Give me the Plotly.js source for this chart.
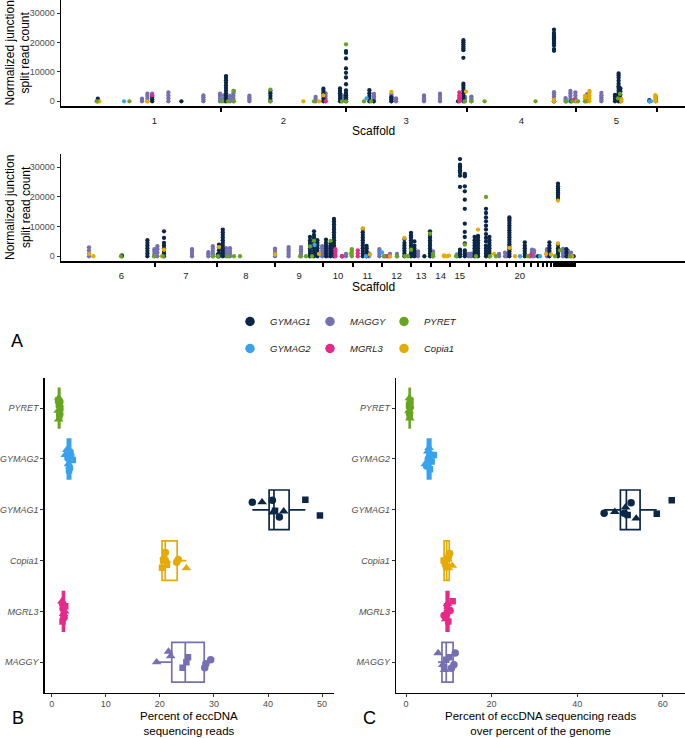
<!DOCTYPE html>
<html>
<head>
<meta charset="utf-8">
<script src="https://cdn.plot.ly/plotly-3.0.1.min.js"></script>
<style>html,body{margin:0;padding:0;background:#fff}#chart{width:685px;height:738px}</style>
</head>
<body>
<div id="chart"></div>
<script>
// ---------------- DATA ----------------
// Panel A: scaffold lengths (Mb, plotting units) and labels
const A1_scaffolds = ['1','2','3','4','5'];
const A1_len = [6.65, 6.24, 6.04, 5.47, 4.05];
const A2_scaffolds = ['6','7','8','9','10','11','12','13','14','15','16','17','18','19','20','21','22','23','24','25','26','27','28','29','30','31','32','33','34','35','36','37','38','39','40','41','42','43','44'];
const A2_len = [3.35,3.085,2.915,2.415,1.47,1.465,1.465,0.985,0.965,0.95,0.835,0.55,0.5,0.45,0.385,0.38,0.32,0.25,0.215,0.2,0.135,0.115,0.1,0.1,0.1,0.085,0.065,0.065,0.06,0.055,0.05,0.045,0.045,0.04,0.04,0.035,0.03,0.025,0.025];
const A2_labelled = ['6','7','8','9','10','11','12','13','14','15','20'];

// Junction positions (cumulative genome position) with normalized split read counts
const A1_GYMAG1 = [
 [0.49,[0,400,900]],[3.21,[0,700,1500]],[4.67,[0]],
 [6.9,[0,900,1800,2700,3600,4500,5400,6300,7200,8000,8600]],
 [9.12,[0,900,1800,2700,3500]],[11.77,[0,900,1800,2700,3500,4300]],
 [12.6,[0,900,1800,2700,3500,4400]],
 [12.9,[0,700,1400,2100,2800,3700,5800,8100,9700,11200,14600,16500,17100]],
 [14.07,[0,900,1800,2700,3800]],[14.28,[0]],[15.17,[0,700,1400]],[18.5,[0]],
 [18.77,[0,900,1800,2700,3600,4500,5300,6000,14800,17400,18000,18700,19400,20100,20800]],
 [23.3,[0,17200,17800,19000,19700,20300,20900,21500,22100,22700,23300,24400]],
 [24.17,[0]],[26.35,[0,800,1600,2200]],
 [26.53,[0,900,1800,2700,3600,4500,5100,6000,7000,8000,8800,9500]],
 [26.62,[0,1100,2200,3300,4400]],[28.07,[0,400]]
];
const A1_MAGGY = [
 [2.7,[0,500,900]],[2.97,[0,900,1800,2600]],[3.21,[1900,2600]],[4.02,[0,1000,2000,3000]],
 [5.77,[0,700,1400,2000]],[6.6,[0,900,1800,2600]],[6.8,[0,1000,2000]],[7.1,[0,900,1800]],
 [7.27,[0,900,1800,2700,3500]],[8.07,[0,700,1300,1900]],[11.38,[0,800,1500]],
 [11.88,[0,900,1800,2700]],[12.7,[0,800,1500,2000]],[14.3,[0,800,1600,2500]],
 [15.17,[0,800,1600,2400]],[15.4,[0,500,1000]],[16.8,[0,700,1400,2000]],
 [17.6,[0,900,1800,2600]],[18.85,[0,800,1500]],[19.17,[0,600,1200,1600]],
 [23.3,[0,800,1600,2400,3100]],[23.88,[0,600,1100]],[24.12,[0,900,1800,2700,3500]],
 [24.37,[0,1000,2000,3000]],[24.95,[0,800,1600,2400]],[25.67,[0,700,1400,2100,2900]],
 [28.4,[0,800,1500]]
];
const A1_PYRET = [
 [0.43,[0]],[2.07,[0]],[6.7,[0]],[7.0,[0]],[7.3,[0,3500]],[9.12,[0,4000]],[11.3,[0]],
 [12.7,[0]],[12.9,[0,19400]],[13.8,[0]],[14.15,[0]],[18.83,[0]],[19.17,[0]],[19.83,[0]],
 [22.38,[0]],[23.9,[0]],[24.2,[0]],[24.5,[0]],[24.85,[0]],[26.5,[1000]],[26.6,[2500]]
];
const A1_Copia1 = [
 [0.57,[0]],[2.97,[0]],[10.77,[0]],[11.55,[0]],[11.77,[2000]],[15.17,[3200]],[18.9,[3300]],
 [23.3,[0,500]],[24.43,[0]],[24.85,[0,1000,1800]],[25.07,[0,1000,2000,3000,3500]],
 [26.67,[0,700]],[28.37,[0,700,1400,2100]]
];
const A1_GYMAG2 = [[1.8,[0]],[13.93,[1000]],[23.93,[0]],[28.07,[0]],[28.15,[0]]];
const A1_MGRL3 = [[3.21,[2100]],[11.88,[0]],[18.57,[0,700,1400,2100,3000]],[24.3,[500]]];

const A2_GYMAG1 = [
 [1.69,[0,300]],[2.97,[0,900,1800,2700,3600,4500,5400]],
 [3.8,[0,900,1800,2700,3600,4500,6200,8400]],[6.49,[0,600]],[6.55,[0,1000,2000,3000,3900]],
 [6.74,[0,900,1800,2700,3600,4500,5400,6300,7200,8100,9000]],
 [11.1,[0,900,1800,2700,3600,4500,5400,6500]],
 [11.3,[0,900,1800,2700,3600,4500,5400,6300,7200,8400]],
 [11.47,[0,900,1800,2700,3600,4500,5400]],[11.9,[0,900,1800,2700,3600,4500,5600]],
 [12.13,[0,900,1800,2700,3600,4400]],
 [12.3,[0,900,1800,2700,3600,4500,5400,6300,7200,8100,9000,9900,10800,11700,12600]],
 [12.7,[0]],[13.74,[0,900,1800,2700,3600,4500,5400,6300,7200,8100,9200]],
 [13.93,[0,900,1800,2700,3500]],[15.82,[0,900,1800,2700,3600,4500,5800]],
 [16.15,[0,900,1800,2700,3600,4500,5400,6300,7100,7900]],
 [16.32,[0,900,1800,2700,3600,5000]],[16.82,[0]],
 [17.1,[0,900,1800,2700,3600,4500,5400,6300,7200,8400]],
 [18.6,[0,800,1500,2200,23400,27200,28300,29000,29800,30300,30900,32800]],
 [18.84,[0,700,1400,2000,4300,6500,8200,11000,16000,19100,21900,23600,27000,27400,27800]],
 [19.33,[0,900,1800,2700,3600,4500,5400,6500]],
 [19.5,[0,900,1800,2700,3600,4500,5400,6300,6900]],
 [19.9,[0,900,1800,2700,3600,5000,6200,7500,9000,10300,11800,13100,14600,16000]],
 [20.07,[0,900,1800,2700,3600,4500,5400,6500]],
 [21.07,[0,800,1600,2400,3200,4000,4800,5600,6400,7200,8000,8800,9600,10400,11200,12000,12600,13100]],
 [21.84,[0,900,1800,2700,3600,4700]],[22.5,[0]],[23.07,[0,900,1800,2700,3600,4700]],
 [23.5,[0,900,1800,2700,3800,19300,20000,20800,21500,22200,22900,23600,24500]],
 [23.92,[0,1200,2400]],[24.28,[0]]
];
const A2_MAGGY = [
 [0.05,[0,1000,2000,3000]],[3.32,[0,800,1600,2400]],[3.47,[0,1200,2400,3400]],
 [5.2,[0,800,1600,2400]],[6.02,[0,700,1350]],[6.24,[0,900,1800,2600,3400]],
 [6.9,[0,900,1800,2700]],[7.1,[0,900,1800,2700]],[9.35,[0,900,1800,2600]],
 [10.03,[0,800,1600,2400,3100]],[10.65,[0,800,1600,2400,3100]],
 [11.71,[0,900,1800,2700,3400]],[12.0,[0,1000,2000,3000]],[12.9,[0,800]],
 [14.05,[0,1000]],[14.57,[0,800,1600,2400]],[15.1,[0,800]],[15.45,[0,800]],
 [16.5,[0,800,1600]],[17.25,[0,800,1600]],[18.45,[0,600]],[19.03,[0,800]],
 [19.17,[0,900]],[20.55,[0,800]],[20.85,[0,1200]],[20.95,[0,800]],
 [22.2,[0,800,1600,2200]],[22.3,[0,1200,2000]],[22.95,[0,900,1800,2400]],
 [23.75,[0,800,1600,2500]],[24.0,[0,1000,1800]],[24.15,[0,1200]]
];
const A2_PYRET = [
 [1.65,[0]],[3.3,[0]],[3.75,[0]],[6.25,[0]],[6.5,[0]],[7.0,[0]],[7.3,[0]],[7.6,[0]],
 [10.6,[0]],[10.9,[0]],[11.1,[3300]],[11.2,[0]],[11.3,[5200]],[12.13,[5200]],
 [13.19,[0,800,1600,2400]],[14.8,[0]],[15.45,[0]],[15.85,[0]],[16.0,[0]],[16.15,[2200]],
 [17.1,[7600]],[17.25,[0,800]],[18.4,[0]],[18.84,[3900]],[19.4,[0]],[19.9,[20000]],
 [20.1,[0]],[20.4,[0]],[22.0,[0]],[23.35,[0]],[23.6,[2000]],[24.1,[0]]
];
const A2_Copia1 = [
 [0.05,[800]],[0.27,[0]],[3.7,[0]],[3.8,[2200]],[6.55,[3100]],[9.35,[600]],[11.55,[800]],
 [13.13,[800]],[13.74,[9400]],[14.1,[600]],[15.1,[0]],[15.82,[6200]],[17.8,[0,300]],
 [17.95,[0]],[18.05,[200]],[19.5,[9000]],[20.3,[800]],[21.07,[2800]],[21.35,[0]],
 [22.9,[800]],[23.15,[600]],[23.5,[4300,18800]],[24.2,[0]]
];
const A2_GYMAG2 = [[11.33,[3800]],[13.9,[0]],[14.7,[1300]],[14.8,[0]],[21.6,[0]],[22.6,[0]]];
const A2_MGRL3 = [[12.37,[0,800,1600,2400]],[12.7,[0]],[13.49,[0,1000,2000]],[14.9,[0]],[15.0,[0]],[22.1,[0]],[22.15,[500]]];

// Panels B and C: categories (bottom to top) and replicate shapes
const boxCategories = ['MAGGY','MGRL3','Copia1','GYMAG1','GYMAG2','PYRET'];
const replicateShape = ['circle','circle','circle','triangle-up','triangle-up','triangle-up','square','square','square'];

// B: percent of eccDNA sequencing reads
const B_q1  = [22.2, 2.0, 20.4, 40.2, 2.9, 1.25];
const B_med = [24.7, 2.2, 21.0, 41.1, 3.2, 1.4];
const B_q3  = [28.2, 2.35, 23.2, 43.9, 3.5, 1.5];
const B_lo  = [19.4, 1.9, 20.4, 37.1, 2.5, 1.1];
const B_hi  = [29.4, 2.5, 24.9, 46.9, 3.9, 1.7];
const B_MAGGY  = [28.3, 28.5, 29.4, 19.4, 21.6, 22.0, 25.2, 24.2, 24.9];
const B_MGRL3  = [2.1, 2.3, 2.0, 2.2, 1.9, 2.4, 2.5, 2.0, 2.2];
const B_Copia1 = [21.0, 23.1, 23.4, 21.2, 20.8, 24.9, 20.6, 20.4, 21.3];
const B_GYMAG1 = [37.1, 40.8, 42.1, 38.9, 40.9, 42.9, 41.3, 46.9, 49.6];
const B_GYMAG2 = [3.4, 3.3, 3.0, 2.5, 2.8, 3.1, 3.9, 3.6, 3.2];
const B_PYRET  = [1.4, 1.5, 1.5, 1.2, 1.3, 1.3, 1.6, 1.2, 1.4];
const B_MAGGY_jit  = [-0.11,-0.03,0.05, 0.0,0.21,0.12, 0.1,-0.11,0.0];
const B_MGRL3_jit  = [0.05,-0.12,0.15, -0.05,0.2,0.0, 0.1,-0.2,-0.1];
const B_Copia1_jit = [0.16,-0.03,0.02, 0.0,0.08,-0.15, 0.0,-0.14,-0.08];
const B_GYMAG1_jit = [0.15,0.19,-0.14, 0.15,-0.05,-0.03, -0.02,0.2,-0.11];
const B_GYMAG2_jit = [0.14,-0.18,0.02, 0.08,0.18,-0.1, -0.02,0.05,-0.22];
const B_PYRET_jit  = [0.05,0.12,-0.12, -0.05,0.2,-0.22, 0.0,0.15,-0.15];

// C: percent of eccDNA reads over percent of genome
const C_q1  = [8.4, 9.4, 8.9, 50.1, 5.0, 0.75];
const C_med = [9.4, 9.7, 9.5, 51.5, 5.4, 0.85];
const C_q3  = [11.0, 10.0, 10.1, 54.7, 5.8, 0.95];
const C_lo  = [7.5, 8.9, 8.8, 46.3, 4.5, 0.65];
const C_hi  = [11.5, 10.9, 10.8, 58.6, 6.5, 1.05];
const C_MAGGY  = [11.5, 11.2, 10.6, 7.5, 8.6, 9.0, 9.4, 10.1, 8.9];
const C_MGRL3  = [10.3, 8.9, 9.5, 9.7, 9.9, 9.3, 10.9, 9.9, 9.6];
const C_Copia1 = [10.2, 9.4, 9.8, 10.8, 9.2, 9.9, 8.8, 10.0, 9.1];
const C_GYMAG1 = [46.3, 51.0, 52.6, 48.8, 51.3, 53.8, 51.8, 58.6, 62.1];
const C_GYMAG2 = [4.8, 5.5, 5.2, 5.1, 4.5, 5.4, 6.5, 6.0, 5.6];
const C_PYRET  = [0.9, 0.8, 1.0, 0.7, 0.8, 0.9, 1.0, 0.7, 0.85];
const C_MAGGY_jit  = [0.18,-0.05,-0.12, 0.18,-0.05,-0.15, 0.05,0.1,-0.1];
const C_MGRL3_jit  = [0.02,-0.08,-0.05, 0.15,0.05,-0.15, 0.2,-0.2,0.1];
const C_Copia1_jit = [0.14,-0.12,0.05, -0.1,0.02,-0.15, 0.0,0.1,-0.05];
const C_GYMAG1_jit = [-0.07,-0.07,0.14, -0.04,0.05,-0.17, -0.1,-0.08,0.19];
const C_GYMAG2_jit = [-0.14,0.1,0.0, 0.15,-0.1,0.22, 0.08,-0.05,-0.2];
const C_PYRET_jit  = [0.1,-0.1,0.02, -0.05,0.2,-0.2, 0.15,0.05,-0.15];

// ---------------- STYLE ----------------
const FONT = 'Liberation Sans, Arial, Helvetica, sans-serif';
const COL = {GYMAG1:'#0B2747', GYMAG2:'#38A2EE', MAGGY:'#7570B3', MGRL3:'#E7298A', PYRET:'#66A61E', Copia1:'#E6AB02'};
const W = 685, H = 738;
const px = v => v / W, py = v => 1 - v / H;

function flat(cols){ const x=[], y=[]; cols.forEach(c => c[1].forEach(v => { x.push(c[0]); y.push(v); })); return {x, y}; }
function cum(lens){ let s = 0; return lens.map(l => (s += l)); }

const A1_ends = cum(A1_len), A2_ends = cum(A2_len);
const A1_mid = A1_ends.map((e,i) => e - A1_len[i]/2);
const A2_mid = A2_ends.map((e,i) => e - A2_len[i]/2);
const A2_labIdx = A2_scaffolds.map((s,i) => A2_labelled.includes(s) ? i : -1).filter(i => i >= 0);

const traces = [];
const drawOrder = ['MAGGY','GYMAG1','GYMAG2','MGRL3','Copia1','PYRET'];
const A1 = {GYMAG1:A1_GYMAG1, GYMAG2:A1_GYMAG2, MAGGY:A1_MAGGY, MGRL3:A1_MGRL3, PYRET:A1_PYRET, Copia1:A1_Copia1};
const A2 = {GYMAG1:A2_GYMAG1, GYMAG2:A2_GYMAG2, MAGGY:A2_MAGGY, MGRL3:A2_MGRL3, PYRET:A2_PYRET, Copia1:A2_Copia1};
[[A1,'x','y'],[A2,'x2','y2']].forEach(([set, xa, ya]) => {
  drawOrder.forEach(f => {
    const d = flat(set[f]);
    traces.push({type:'scatter', mode:'markers', x:d.x, y:d.y, xaxis:xa, yaxis:ya, name:f,
      marker:{size:4.3, color:COL[f], opacity:1, line:{width:0}}, showlegend:false, hoverinfo:'skip'});
  });
});

// Box plots + replicate points
const Bpts = {MAGGY:[B_MAGGY,B_MAGGY_jit], MGRL3:[B_MGRL3,B_MGRL3_jit], Copia1:[B_Copia1,B_Copia1_jit], GYMAG1:[B_GYMAG1,B_GYMAG1_jit], GYMAG2:[B_GYMAG2,B_GYMAG2_jit], PYRET:[B_PYRET,B_PYRET_jit]};
const Cpts = {MAGGY:[C_MAGGY,C_MAGGY_jit], MGRL3:[C_MGRL3,C_MGRL3_jit], Copia1:[C_Copia1,C_Copia1_jit], GYMAG1:[C_GYMAG1,C_GYMAG1_jit], GYMAG2:[C_GYMAG2,C_GYMAG2_jit], PYRET:[C_PYRET,C_PYRET_jit]};
const symSize = {'circle':7.5, 'triangle-up':8.5, 'square':6.5};
[[B_q1,B_med,B_q3,B_lo,B_hi,Bpts,'x3','y3'],[C_q1,C_med,C_q3,C_lo,C_hi,Cpts,'x4','y4']].forEach(([q1,md,q3,lo,hi,pts,xa,ya]) => {
  boxCategories.forEach((f,i) => {
    traces.push({type:'box', orientation:'h', y:[i], q1:[q1[i]], median:[md[i]], q3:[q3[i]],
      lowerfence:[lo[i]], upperfence:[hi[i]], xaxis:xa, yaxis:ya, width:0.78, whiskerwidth:0,
      boxpoints:false, fillcolor:'#ffffff', line:{color:COL[f], width:1.7}, showlegend:false, hoverinfo:'skip', name:f});
  });
  boxCategories.forEach((f,i) => {
    const [vals, jit] = pts[f];
    traces.push({type:'scatter', mode:'markers', x:vals, y:jit.map(j => i + j), xaxis:xa, yaxis:ya,
      marker:{color:COL[f], opacity:1, symbol:replicateShape, size:replicateShape.map(s => symSize[s]), line:{width:0}},
      showlegend:false, hoverinfo:'skip', name:f});
  });
});

// Legend entries (3 columns x 2 rows)
const legendCols = [['GYMAG1','GYMAG2','legend'],['MAGGY','MGRL3','legend2'],['PYRET','Copia1','legend3']];
legendCols.forEach(([a,b,lg]) => {
  [a,b].forEach(f => traces.push({type:'scatter', mode:'markers', x:[null], y:[null], xaxis:'x', yaxis:'y',
    name:f, legend:lg, legendgroup:f, showlegend:true, marker:{size:9.5, color:COL[f], opacity:1}}));
});

const tickFontGrey = {family:FONT, size:9, color:'#4D4D4D'};
function topX(mids, labels, ends, anchor){
  return {domain:[px(61),1], range:[-1.35,29.85], anchor:anchor, showline:true, linecolor:'#000', linewidth:2,
    showgrid:false, zeroline:false, tickmode:'array', tickvals:mids, ticktext:labels,
    ticks:'outside', ticklen:5, tickwidth:1, tickcolor:'rgba(0,0,0,0)',
    tickfont:{family:FONT, size:9.5, color:'#1a1a1a'},
    minor:{tickmode:'array', tickvals:ends, ticks:'outside', ticklen:4, tickwidth:2, tickcolor:'#000', showgrid:false}};
}
function topY(domain, anchor){
  return {domain:domain, range:[-1600,34500], anchor:anchor, showline:true, linecolor:'#000', linewidth:1.5,
    showgrid:false, zeroline:false, tickmode:'array', tickvals:[0,10000,20000,30000], ticktext:['0','10000','20000','30000'],
    ticks:'outside', ticklen:3, tickwidth:1, tickcolor:'#333', tickfont:tickFontGrey};
}
function boxY(anchor){
  return {domain:[py(692.7), py(377.7)], range:[-0.6,5.6], anchor:anchor, showline:true, linecolor:'#000', linewidth:1.6,
    showgrid:false, zeroline:false, tickmode:'array', tickvals:[0,1,2,3,4,5], ticktext:boxCategories,
    ticks:'outside', ticklen:3, tickwidth:1, tickcolor:'#333',
    tickfont:{family:FONT, size:9, color:'#4D4D4D', style:'italic'}};
}
function boxX(domain, range, tv, anchor){
  return {domain:domain, range:range, anchor:anchor, showline:true, linecolor:'#000', linewidth:1.6,
    showgrid:false, zeroline:false, tickmode:'array', tickvals:tv, ticks:'outside', ticklen:3, tickwidth:1,
    tickcolor:'#333', tickfont:tickFontGrey, ticklabelstandoff:-1};
}
const legendBase = (x) => ({x:px(x), y:py(307), xanchor:'left', yanchor:'top', orientation:'v', bgcolor:'rgba(0,0,0,0)',
  tracegroupgap:8, font:{family:FONT, size:9.5, color:'#1a1a1a', style:'italic'}});

const ann = (text, x, y, opts={}) => Object.assign({text, x:px(x), y:py(y), xref:'paper', yref:'paper',
  showarrow:false, xanchor:'center', yanchor:'middle', font:{family:FONT, size:12, color:'#000'}}, opts);
const titleFont = {family:FONT, size:11.5, color:'#000'};

const layout = {
  width:W, height:H, margin:{l:0,r:0,t:0,b:0,pad:0}, paper_bgcolor:'#fff', plot_bgcolor:'rgba(0,0,0,0)',
  font:{family:FONT}, showlegend:true,
  xaxis: topX(A1_mid, A1_scaffolds, A1_ends, 'y'),
  yaxis: topY([py(106), 1], 'x'),
  xaxis2: topX(A2_labIdx.map(i => A2_mid[i]), A2_labIdx.map(i => A2_scaffolds[i]), A2_ends, 'y2'),
  yaxis2: topY([py(261), py(154)], 'x2'),
  xaxis3: boxX([px(45), px(334)], [-1.24, 52.2], [0,10,20,30,40,50], 'y3'),
  yaxis3: boxY('x3'),
  xaxis4: boxX([px(396.3), 1], [-2.27, 65.2], [0,20,40,60], 'y4'),
  yaxis4: boxY('x4'),
  legend: legendBase(230), legend2: legendBase(310), legend3: legendBase(384),
  annotations: [
    ann('Normalized junction<br>split read count', 17.5, 53, {textangle:-90}),
    ann('Normalized junction<br>split read count', 17.5, 207.5, {textangle:-90}),
    ann('Scaffold', 373, 131),
    ann('Scaffold', 373, 287.5),
    ann('Percent of eccDNA<br>sequencing reads', 189.5, 723.8, {borderpad:0, font:titleFont}),
    ann('Percent of eccDNA sequencing reads<br>over percent of the genome', 540.5, 723.8, {borderpad:0, font:titleFont}),
    ann('A', 17, 341, {font:{family:FONT, size:18, color:'#000'}}),
    ann('B', 18, 718, {font:{family:FONT, size:18, color:'#000'}}),
    ann('C', 369, 718, {font:{family:FONT, size:18, color:'#000'}})
  ]
};

Plotly.newPlot('chart', traces, layout, {staticPlot:true, displayModeBar:false});
</script>
</body>
</html>
